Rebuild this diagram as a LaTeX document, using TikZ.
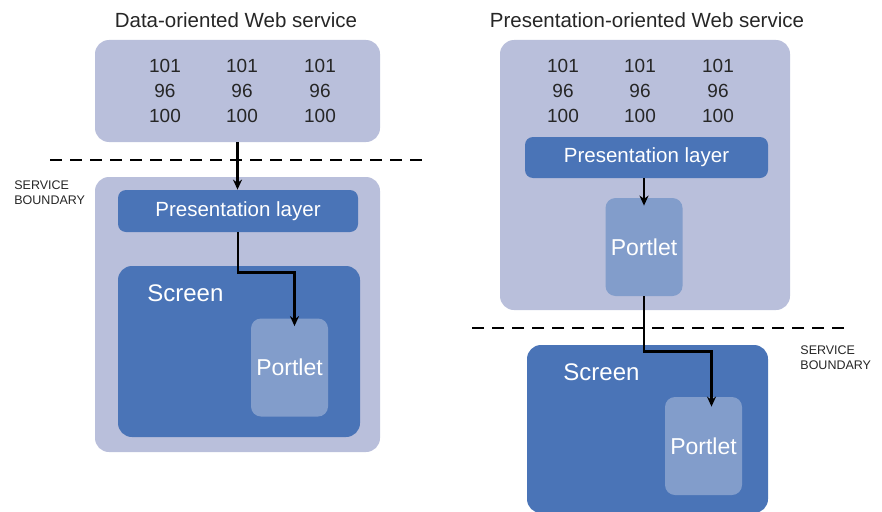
\documentclass[tikz,border=0pt]{standalone}
\usepackage{fontspec}
\setmainfont{Liberation Sans}
\usetikzlibrary{arrows.meta, positioning}
\definecolor{lavender}{HTML}{B9BFDB}
\definecolor{darkblue}{HTML}{4A74B7}
\definecolor{portletblue}{HTML}{829DCB}

\begin{document}
\begin{tikzpicture}[x=1pt, y=-1pt, thick, >=Stealth]
  % Define styles
  \tikzstyle{tier} = [rectangle, rounded corners=14pt, fill=lavender, inner sep=0pt]
  \tikzstyle{layer} = [rectangle, rounded corners=8pt, fill=darkblue, text=white, inner sep=0pt, font=\fontsize{20.5}{22}\selectfont]
  \tikzstyle{screenbox} = [rectangle, rounded corners=14pt, fill=darkblue, inner sep=0pt]
  \tikzstyle{portlet} = [rectangle, rounded corners=10pt, fill=portletblue, text=white, inner sep=0pt, minimum width=77pt, minimum height=98pt, font=\fontsize{23}{26}\selectfont]
  \tikzstyle{data} = [align=center, text=black!85, font=\fontsize{19}{25}\selectfont]
  \tikzstyle{title} = [text=black!85, font=\fontsize{20.5}{22}\selectfont]
  \tikzstyle{scrtext} = [anchor=west, text=white, inner sep=0pt, font=\fontsize{24}{26}\selectfont]
  \tikzstyle{boundary} = [anchor=west, align=left, inner sep=0pt, text=black!85, font=\fontsize{12.5}{15}\selectfont]
  \tikzstyle{line} = [draw, line width=2.4pt, -{Stealth[length=10pt, width=9pt]}]
  \tikzstyle{cut} = [draw, line width=2.5pt, dash pattern=on 12pt off 8pt]

  \useasboundingbox (0,0) rectangle (882,511);

  % Place nodes
  \node [title] (titleL) at (236,20) {Data-oriented Web service};
  \node [title] (titleR) at (647,20) {Presentation-oriented Web service};

  \node [tier, minimum width=285pt, minimum height=102pt] (dataL) at (237.5,91) {};
  \node [tier, minimum width=285pt, minimum height=275pt] (svcL) at (237.5,314.5) {};
  \node [layer, minimum width=240pt, minimum height=42pt] (presL) at (238,211) {Presentation layer};
  \node [screenbox, minimum width=242pt, minimum height=171pt] (screenL) at (239,351.5) {};
  \node [scrtext] (screenLtext) at (147,293) {Screen};
  \node [portlet] (portletL) at (289.5,367.5) {Portlet};

  \node [tier, minimum width=290pt, minimum height=270pt] (dataR) at (645,175) {};
  \node [layer, minimum width=243pt, minimum height=41pt] (presR) at (646.5,157.5) {Presentation layer};
  \node [portlet] (portletR) at (644,247) {Portlet};
  \node [screenbox, minimum width=241pt, minimum height=168pt] (screenR) at (647.5,429) {};
  \node [scrtext] (screenRtext) at (563,372) {Screen};
  \node [portlet] (portletR2) at (703.5,446) {Portlet};

  \foreach \x/\n in {165/a, 242/b, 320/c}
    \node [data] (numL\n) at (\x,91) {101\\96\\100};
  \foreach \x/\n in {563/a, 640/b, 718/c}
    \node [data] (numR\n) at (\x,91) {101\\96\\100};

  \node [boundary] (boundL) at (14,192.5) {SERVICE\\BOUNDARY};
  \node [boundary] (boundR) at (800,357.5) {SERVICE\\BOUNDARY};

  \coordinate (cutLa) at (50,160);
  \coordinate (cutLb) at (425,160);
  \coordinate (cutRa) at (472,328);
  \coordinate (cutRb) at (848,328);

  % Draw edges
  \path [cut] (cutLa) -- (cutLb);
  \path [cut] (cutRa) -- (cutRb);
  \path [line] (dataL.south) -- (dataL.south |- presL.north);
  \path [line, shorten >=-8pt] (presL.south) -- ++(0,40) -| ([xshift=5pt]portletL.north);
  \path [line, shorten >=-8pt] (portletR.north |- presR.south) -- (portletR.north);
  \path [line, shorten >=-10pt] (portletR.south) -- ++(0,55) -| ([xshift=8pt]portletR2.north);
\end{tikzpicture}
\end{document}
